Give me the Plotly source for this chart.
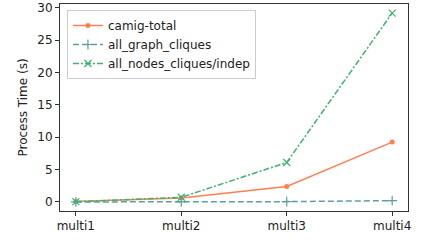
import plotly.graph_objects as go

categories = ["multi1", "multi2", "multi3", "multi4"]
camig_total = [0.05, 0.6, 2.4, 9.25]
all_graph_cliques = [0.0, 0.02, 0.05, 0.2]
all_nodes_cliques = [0.05, 0.72, 6.1, 29.2]

FONT = "DejaVu Sans"
FS = 12

fig = go.Figure()
fig.add_trace(go.Scatter(x=categories, y=camig_total, name="camig-total",
                         mode="lines+markers",
                         line=dict(color="#ff7f50", width=1.5),
                         marker=dict(symbol="circle", size=5, color="#ff7f50")))
fig.add_trace(go.Scatter(x=categories, y=all_graph_cliques, name="all_graph_cliques",
                         mode="lines+markers",
                         line=dict(color="#5f9ea0", width=1.5, dash="6px,3px"),
                         marker=dict(symbol="cross-thin", size=7,
                                     line=dict(color="#5f9ea0", width=1.2))))
fig.add_trace(go.Scatter(x=categories, y=all_nodes_cliques, name="all_nodes_cliques/indep",
                         mode="lines+markers",
                         line=dict(color="#3cb371", width=1.5, dash="6px,2px,2px,2px"),
                         marker=dict(symbol="x-thin", size=7,
                                     line=dict(color="#3cb371", width=1.2))))

axis_common = dict(showline=True, linecolor="#333", linewidth=1, mirror=True,
                   ticks="outside", ticklen=4, tickcolor="#333", showgrid=False,
                   zeroline=False, automargin=False,
                   tickfont=dict(family=FONT, size=FS, color="#222"))
fig.update_xaxes(type="category", range=[-0.15, 3.15], **axis_common)
fig.update_yaxes(range=[-1.4, 30.6], tickvals=[0, 5, 10, 15, 20, 25, 30],
                 title=dict(text="Process Time (s)", font=dict(family=FONT, size=FS, color="#222"),
                            standoff=7),
                 **axis_common)
fig.update_layout(width=430, height=240,
                  margin=dict(l=60, r=22, t=4, b=29),
                  plot_bgcolor="white", paper_bgcolor="white",
                  font=dict(family=FONT, size=FS, color="#222"),
                  legend=dict(x=0.02, y=0.971, xanchor="left", yanchor="top",
                              bgcolor="rgba(255,255,255,0.8)", bordercolor="#ccc", borderwidth=1,
                              font=dict(family=FONT, size=FS), tracegroupgap=0, itemwidth=30))
fig.write_html("out.html", config={"displayModeBar": False},
               post_script="document.body.style.margin='0';")
